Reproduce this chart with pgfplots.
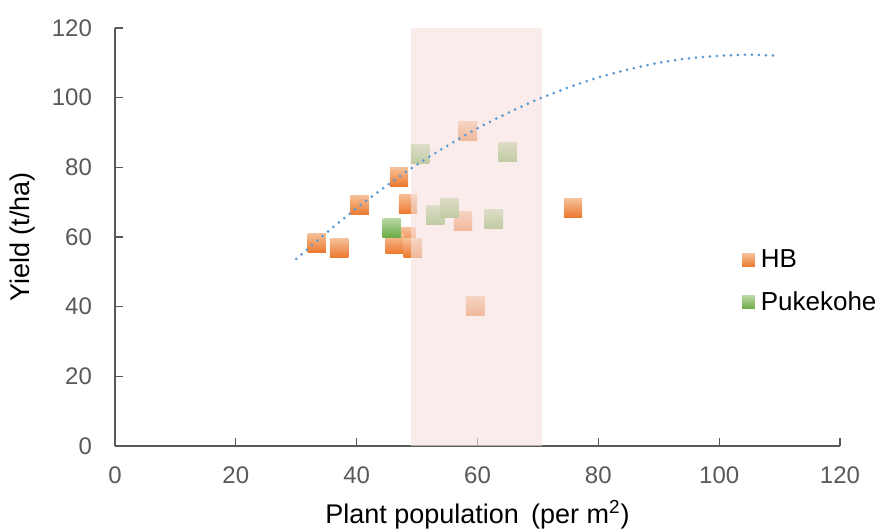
\documentclass[border=0pt]{standalone}
\usepackage{fontspec}
\setmainfont{Liberation Sans}
\usepackage{pgfplots}
\pgfplotsset{compat=1.18}
\definecolor{hbtop}{HTML}{F6BE96}
\definecolor{hbbot}{HTML}{EC7A30}
\definecolor{pktop}{HTML}{B8D7A3}
\definecolor{pkbot}{HTML}{6BAA45}
\definecolor{trend}{HTML}{5B9BD5}
\definecolor{band}{HTML}{F5E0DD}
\definecolor{ticktext}{HTML}{595959}
\definecolor{axline}{HTML}{595959}

% gradient-filled square markers, as in the original spreadsheet chart
\pgfdeclareplotmark{hbsq}{\shade[draw=none,top color=hbtop,bottom color=hbbot]
  (-\pgfplotmarksize,-\pgfplotmarksize) rectangle (\pgfplotmarksize,\pgfplotmarksize);}
\pgfdeclareplotmark{pksq}{\shade[draw=none,top color=pktop,bottom color=pkbot]
  (-\pgfplotmarksize,-\pgfplotmarksize) rectangle (\pgfplotmarksize,\pgfplotmarksize);}

\begin{document}
\begin{tikzpicture}
\begin{axis}[
scale only axis,width=362.5pt,height=209pt,
xmin=0,xmax=120,ymin=0,ymax=120,
xtick={0,20,...,120},ytick={0,20,...,120},
axis x line*=bottom,axis y line*=left,
axis line style={axline,line width=0.6pt},
tick style={axline,line width=0.6pt},
tick align=inside,major tick length=4pt,
clip mode=individual,
/pgf/number format/assume math mode=true,
tick label style={color=ticktext,font=\fontsize{12}{14}\selectfont},
xticklabel style={yshift=-7pt},
yticklabel style={xshift=-8pt},
xlabel={Plant population\hspace{0.45em}(per m\textsuperscript{2})},
ylabel={Yield (t/ha)},
label style={font=\fontsize{13.5}{16}\selectfont},
x label style={at={(axis description cs:0.5,-0.165)},anchor=center},
y label style={at={(axis description cs:-0.128,0.5)},anchor=center},
legend style={at={(axis description cs:0.856,0.49)},anchor=north west,
  draw=none,fill=none,font=\fontsize{13}{15}\selectfont,row sep=6.5pt,
  /tikz/every odd column/.append style={column sep=1pt}},
legend cell align=left,
]
\addplot[only marks,mark=hbsq,mark size=4.6pt,
  legend image code/.code={\shade[draw=none,top color=hbtop,bottom color=hbbot]
    (0pt,-3.2pt) rectangle (6.4pt,3.2pt);}]
coordinates {
(58.4,90.4) (47.0,77.2) (40.5,69.2) (48.5,69.5) (57.6,64.6)
(48.3,60.0) (46.3,58.0) (49.3,56.8) (33.4,58.3) (37.1,56.8)
(59.6,40.2) (75.8,68.3)
};
\addlegendentry{HB}
\addplot[only marks,mark=pksq,mark size=4.6pt,
  legend image code/.code={\shade[draw=none,top color=pktop,bottom color=pkbot]
    (0pt,-3.2pt) rectangle (6.4pt,3.2pt);}]
coordinates {
(50.5,83.8) (65.0,84.4) (53.0,66.3) (55.3,68.3) (62.7,65.2) (45.8,62.6)
};
\addlegendentry{Pukekohe}
% optimum population band
\addplot[fill=band,draw=none,fill opacity=0.62,forget plot]
coordinates {(49,0) (70.7,0) (70.7,120) (49,120)} -- cycle;
% quadratic trend line
\addplot[trend,line width=1.5pt,line cap=round,dash pattern=on 0pt off 3.5pt,
  smooth,forget plot]
coordinates {
(30,53.7) (35,61.2) (40,68.3) (45,74.8) (50,80.8) (55,86.2) (60,91.2)
(65,95.6) (70,99.5) (75,102.9) (80,105.8) (85,108.1) (90,110.0)
(95,111.3) (100,112.0) (105,112.3) (110,112.0)
};
\end{axis}
\pgfresetboundingbox
\path[use as bounding box] ([shift={(-57.5pt,-43pt)}]current axis.south west)
  rectangle ([shift={(26pt,14pt)}]current axis.north east);
\end{tikzpicture}
\end{document}
